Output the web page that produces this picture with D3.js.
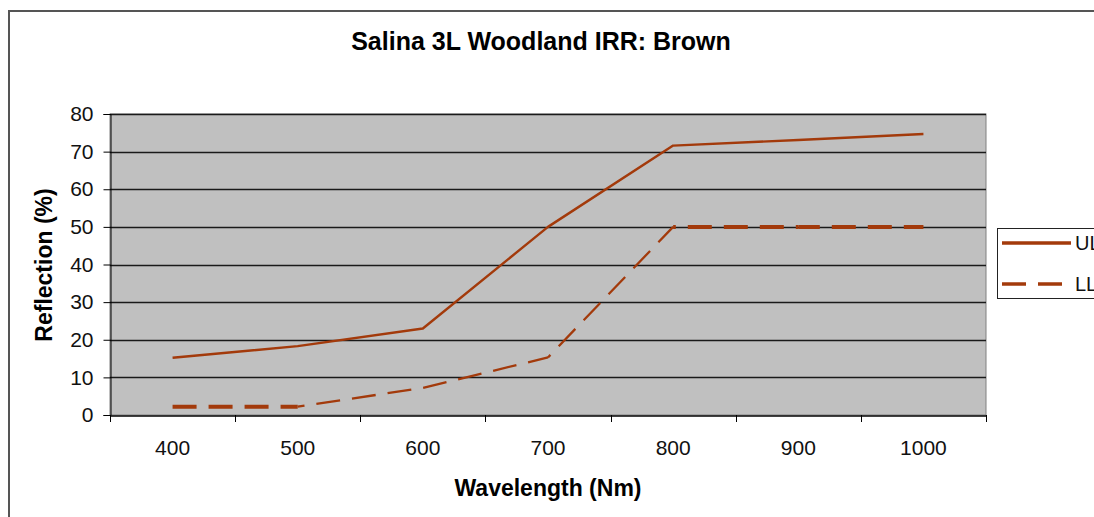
<!DOCTYPE html>
<html><head><meta charset="utf-8">
<script src="https://cdn.jsdelivr.net/npm/d3@7"></script>
<style>body{margin:0;background:#fff}svg{display:block}text{font-family:Arial,"Liberation Sans",sans-serif}</style>
</head><body>
<script>
const categories = ["400","500","600","700","800","900","1000"];
const ulValues = [15.2, 18.3, 23.0, 50.0, 71.6, 73.1, 74.7];
const llValues = [2.2, 2.2, 7.2, 15.3, 50.0, 50.0, 50.0];
const yTicks = [0,10,20,30,40,50,60,70,80];
const seriesNames = ["UL","LL"];
const title = "Salina 3L Woodland IRR: Brown";
const xTitle = "Wavelength (Nm)";
const yTitle = "Reflection (%)";

const W = 1094, H = 517;
const m = {left:110, right:986, top:114, bottom:415};
const color = "#A33A0B";
const FONT = "Arial, 'Liberation Sans', sans-serif";

const svg = d3.select("body").append("svg").attr("width",W).attr("height",H);

// outer frame
svg.append("path").attr("d",`M9,${H} V11 H${W}`).attr("fill","none").attr("stroke","#555").attr("stroke-width",2);

const x = d3.scaleBand().domain(categories).range([m.left,m.right]).padding(0);
const y = d3.scaleLinear().domain([0,80]).range([m.bottom,m.top]);

svg.append("rect").attr("x",m.left).attr("y",m.top).attr("width",m.right-m.left).attr("height",m.bottom-m.top).attr("fill","#C0C0C0").attr("stroke","#808080").attr("stroke-width",1);

// gridlines
svg.append("g").selectAll("line").data(yTicks.filter(d=>d>0)).join("line")
  .attr("x1",m.left).attr("x2",m.right).attr("y1",d=>Math.round(y(d))+0.5).attr("y2",d=>Math.round(y(d))+0.5)
  .attr("stroke","#1a1a1a").attr("stroke-width",1.3);

// y axis
const ya = svg.append("g").attr("transform",`translate(${m.left+0.5},0)`)
  .call(d3.axisLeft(y).tickValues(yTicks).tickSize(7).tickPadding(10));
ya.select(".domain").attr("stroke","#000");
ya.selectAll(".tick line").attr("stroke","#000");
ya.selectAll("text").attr("font-size",21).attr("fill","#111").attr("font-family",FONT);

// x axis
const xa = svg.append("g").attr("transform",`translate(0,${m.bottom+0.5})`)
  .call(d3.axisBottom(x).tickSize(0).tickPadding(25));
xa.select(".domain").attr("stroke","#000").attr("stroke-width",1.3);
xa.selectAll("text").attr("font-size",21).attr("fill","#111").attr("font-family",FONT);
const bounds = categories.map(c=>x(c)).concat([m.right]);
svg.append("g").selectAll("line").data(bounds).join("line")
  .attr("x1",d=>Math.round(d)+0.5).attr("x2",d=>Math.round(d)+0.5).attr("y1",m.bottom).attr("y2",m.bottom+7)
  .attr("stroke","#000");

const cx = c => x(c)+x.bandwidth()/2;
const line = d3.line().x(d=>cx(d.c)).y(d=>y(d.v));

const ul = categories.map((c,i)=>({c,v:ulValues[i]}));
const ll = categories.map((c,i)=>({c,v:llValues[i]}));

svg.append("path").datum(ul).attr("d",line).attr("fill","none").attr("stroke",color).attr("stroke-width",2.4).attr("stroke-linejoin","round");

// dashed series: drawn segment by segment, continuing the dash pattern; flat runs render heavier as in the original
let offset = 0;
for (let i = 0; i < ll.length - 1; i++) {
  const seg = [ll[i], ll[i+1]];
  const dx = cx(seg[1].c) - cx(seg[0].c), dy = y(seg[1].v) - y(seg[0].v);
  const len = Math.hypot(dx, dy);
  svg.append("path").datum(seg).attr("d",line).attr("fill","none").attr("stroke",color)
    .attr("stroke-width", seg[0].v === seg[1].v ? 4 : 2.3)
    .attr("stroke-dasharray","24,12").attr("stroke-dashoffset", offset);
  offset += len;
}

// legend
const lg = svg.append("g");
lg.append("rect").attr("x",997.5).attr("y",228.5).attr("width",120).attr("height",70).attr("fill","#fff").attr("stroke","#222").attr("stroke-width",1);
seriesNames.forEach((n,i)=>{
  const yy = 243 + i*41;
  lg.append("line").attr("x1",1002).attr("x2",1071).attr("y1",yy).attr("y2",yy).attr("stroke",color).attr("stroke-width",3.5)
    .attr("stroke-dasharray", i===1 ? "24,12" : null);
  lg.append("text").attr("x",1075).attr("y",yy+7).attr("font-size",20).attr("fill","#111").text(n);
});

// titles
svg.append("text").attr("x",541).attr("y",50).attr("text-anchor","middle").attr("font-size",25).attr("font-weight","bold").attr("fill","#000").text(title);
svg.append("text").attr("x",548).attr("y",496).attr("text-anchor","middle").attr("font-size",23).attr("font-weight","bold").attr("fill","#000").text(xTitle);
svg.append("text").attr("transform","translate(52,265) rotate(-90)").attr("text-anchor","middle").attr("font-size",23).attr("font-weight","bold").attr("fill","#000").text(yTitle);
</script>
</body></html>
